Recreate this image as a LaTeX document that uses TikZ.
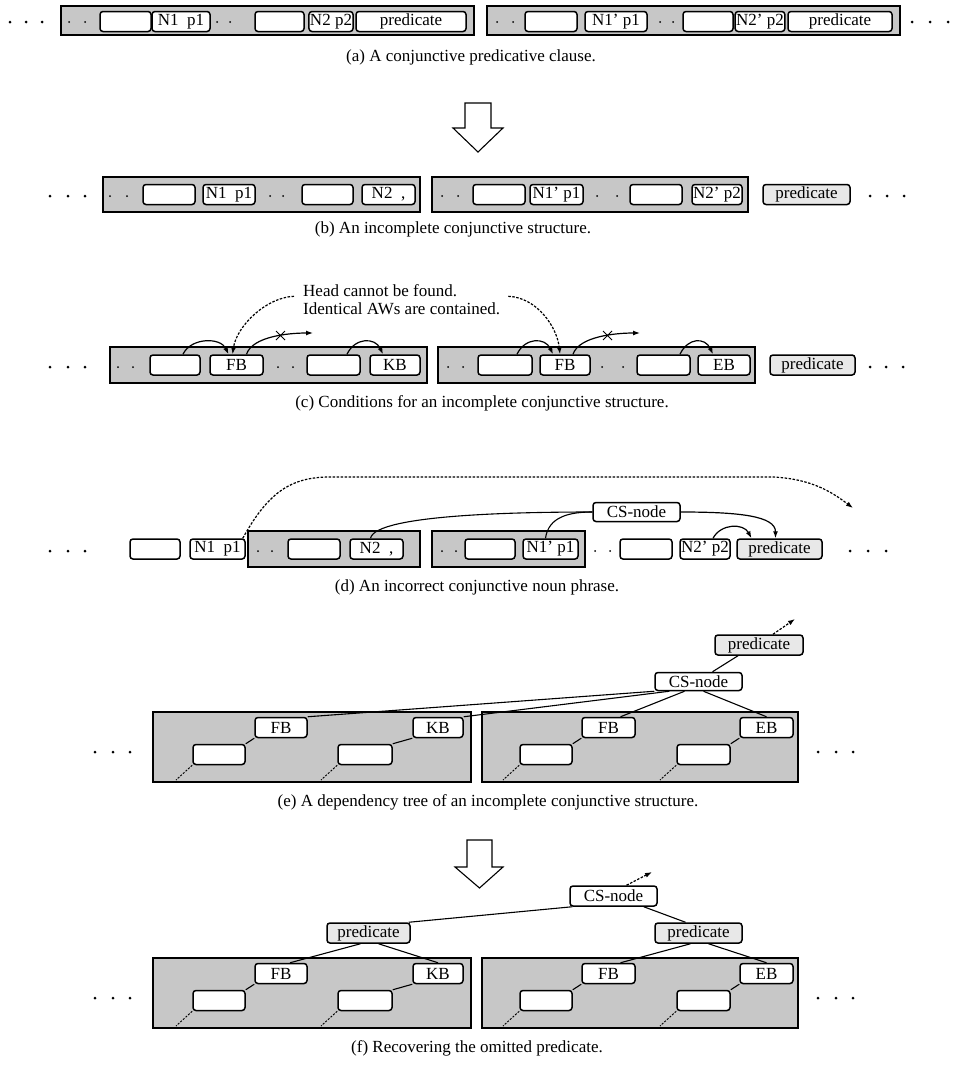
\documentclass[tikz,border=0pt]{standalone}
\usepackage{fontspec}
\setmainfont{Liberation Serif}
\usetikzlibrary{arrows.meta}
\newcommand\lblfont{\fontsize{17}{18}\selectfont}
\begin{document}
\begin{tikzpicture}[x=1pt,y=-1pt,
  band/.style={draw, line width=1.5pt, fill=black!22, inner sep=0pt, rectangle},
  ebox/.style={draw, line width=1.5pt, rounded corners=3pt, fill=white, inner sep=1pt, minimum height=20pt},
  lbox/.style={ebox, font=\lblfont},
  pbox/.style={lbox, fill=black!9},
  capt/.style={font=\lblfont, inner sep=0pt},
  arr/.style={line width=1.2pt, -{Latex[length=7pt,width=5pt]}},
  darr/.style={arr, dash pattern=on 2.5pt off 1.5pt},
  ln/.style={line width=1.1pt},
  dln/.style={line width=1pt, dash pattern=on 2pt off 1.5pt},
  bigarrow/.style={draw, line width=1.1pt, fill=white, line join=miter}
]
\useasboundingbox (0,0) rectangle (953,1068);

% ================= (a) =================
\node[band, minimum width=413, minimum height=29] (bA1) at (267.5,20.5) {};
\node[band, minimum width=413, minimum height=29] (bA2) at (693.5,20.5) {};
\foreach \x in {69,85,217,230,497,513,660,673} \fill (\x,22) circle (1pt);
\foreach \x in {10,26,42,912,930,948} \fill (\x,22) circle (1.5pt);
\node[ebox, minimum width=51] (aE1) at (125.5,21.5) {};
\node[lbox, minimum width=58] (aN1) at (181,21.5) {N1~~p1};
\node[ebox, minimum width=49] (aE2) at (279.5,21.5) {};
\node[lbox, minimum width=38] (aN2) at (331,21.5) {N2~p2};
\node[lbox, minimum width=110] (aP1) at (411,21.5) {predicate};
\node[ebox, minimum width=52] (aE3) at (551,21.5) {};
\node[lbox, minimum width=62] (aN3) at (616,21.5) {N1’ p1};
\node[ebox, minimum width=50] (aE4) at (708,21.5) {};
\node[lbox, minimum width=46] (aN4) at (760,21.5) {N2’ p2};
\node[lbox, minimum width=104] (aP2) at (840,21.5) {predicate};
\node[capt] (capA) at (471,57) {(a) A conjunctive predicative clause.};

\draw[bigarrow] (465,103) -- (491,103) -- (491,128) -- (503,128) -- (478,152) -- (453,128) -- (465,128) -- cycle;

% ================= (b) =================
\node[band, minimum width=317, minimum height=35] (bB1) at (261.5,194.5) {};
\node[band, minimum width=316, minimum height=35] (bB2) at (590,194.5) {};
\foreach \x in {110,127,270,283,442,458,597,617} \fill (\x,196) circle (1pt);
\foreach \x in {50,68,85,870,887,904} \fill (\x,196) circle (1.5pt);
\node[ebox, minimum width=52] (bE1) at (169,194.5) {};
\node[lbox, minimum width=52] (bN1) at (229,194.5) {N1~~p1};
\node[ebox, minimum width=51] (bE2) at (327.5,194.5) {};
\node[lbox, minimum width=53] (bN2) at (388.5,194.5) {N2~~,};
\node[ebox, minimum width=52] (bE3) at (499,194.5) {};
\node[lbox, minimum width=53] (bN3) at (556.5,194.5) {N1’ p1};
\node[ebox, minimum width=52] (bE4) at (656,194.5) {};
\node[lbox, minimum width=50] (bN4) at (717,194.5) {N2’ p2};
\node[pbox, minimum width=87] (bP) at (806.5,194.5) {predicate};
\node[capt] (capB) at (453,229) {(b) An incomplete conjunctive structure.};

% ================= (c) =================
\node[band, minimum width=317, minimum height=36] (cB1) at (268.5,365) {};
\node[band, minimum width=317, minimum height=36] (cB2) at (596.5,365) {};
\foreach \x in {118,133,278,293,448,463,602,623} \fill (\x,367) circle (1pt);
\foreach \x in {50,68,85,870,886,903} \fill (\x,367) circle (1.5pt);
\node[ebox, minimum width=50] (cE1) at (175,365) {};
\node[lbox, minimum width=53] (cF1) at (236.5,365) {FB};
\node[ebox, minimum width=53] (cE2) at (333.5,365) {};
\node[lbox, minimum width=50] (cK) at (395,365) {KB};
\node[ebox, minimum width=54] (cE3) at (505,365) {};
\node[lbox, minimum width=50] (cF2) at (565,365) {FB};
\node[ebox, minimum width=53] (cE4) at (663.5,365) {};
\node[lbox, minimum width=52] (cEB) at (724,365) {EB};
\node[pbox, minimum width=85] (cP) at (812.5,365) {predicate};
\node[font=\lblfont, align=left, anchor=north west, inner sep=0pt] (cT) at (303,284)
  {Head cannot be found.\\Identical AWs are contained.};
\draw[darr] ([xshift=-9pt,yshift=3pt]cT.west) .. controls +(-28,1) and +(4,-28) .. ([xshift=-4pt]cF1.north);
\draw[darr] ([xshift=8pt,yshift=3pt]cT.east) .. controls +(28,1) and +(-3,-28) .. ([xshift=-5pt]cF2.north);
\draw[arr] ([xshift=8pt]cE1.north) .. controls +(8,-17) and +(-8,-17) .. ([xshift=-8pt]cF1.north);
\draw[arr] ([xshift=13.5pt]cE2.north) .. controls +(8,-17) and +(-8,-17) .. ([xshift=-12pt]cK.north);
\draw[arr] ([xshift=12pt]cE3.north) .. controls +(8,-17) and +(-8,-17) .. ([xshift=-12pt]cF2.north);
\draw[arr] ([xshift=16.5pt]cE4.north) .. controls +(8,-17) and +(-8,-17) .. ([xshift=-11pt]cEB.north);
\coordinate (cX1) at (313,333);
\coordinate (cX2) at (640,333);
\draw[arr] ([xshift=10pt]cF1.north) .. controls +(6,-18) and +(-24,0) .. (cX1);
\draw[arr] ([xshift=8pt]cF2.north) .. controls +(6,-18) and +(-24,0) .. (cX2);
\draw[line width=1pt] (276,331) -- (285,340) (276,340) -- (285,331);
\draw[line width=1pt] (603,331) -- (612,340) (603,340) -- (612,331);
\node[capt] (capC) at (482,403) {(c) Conditions for an incomplete conjunctive structure.};

% ================= (d) =================
\node[band, minimum width=172, minimum height=36] (dB1) at (334,549) {};
\node[band, minimum width=153, minimum height=36] (dB2) at (508.5,549) {};
\foreach \x in {258,272,442,456,595,610} \fill (\x,551) circle (1pt);
\foreach \x in {50,68,85,850,868,886} \fill (\x,551) circle (1.5pt);
\node[ebox, minimum width=50] (dE1) at (155,549) {};
\node[lbox, minimum width=55] (dN1) at (217.5,549) {N1~~p1};
\node[ebox, minimum width=52] (dE2) at (314,549) {};
\node[lbox, minimum width=53] (dN2) at (376.5,549) {N2~~,};
\node[ebox, minimum width=50] (dE3) at (490,549) {};
\node[lbox, minimum width=55] (dN3) at (550.5,549) {N1’ p1};
\node[ebox, minimum width=52] (dE4) at (646,549) {};
\node[lbox, minimum width=50] (dN4) at (705,549) {N2’ p2};
\node[pbox, minimum width=85] (dP) at (779.5,549) {predicate};
\node[lbox, minimum width=87, minimum height=19] (dCS) at (636.5,512) {CS-node};
\coordinate (dEnd) at (853,508);
\draw[darr] ([xshift=-3pt]dN1.north east) .. controls +(25,-45) and +(-40,0) .. (330,477) -- (773,477) .. controls +(40,2) and +(-20,-15) .. (dEnd);
\draw[ln] ([xshift=-6pt]dN2.north) .. controls +(5,-24) and +(-70,0) .. (dCS.west);
\draw[ln] ([xshift=-5pt]dN3.north) .. controls +(3,-22) and +(-22,0) .. (dCS.west);
\draw[arr] (dCS.east) .. controls +(60,0) and +(0,-22) .. ([xshift=-4pt]dP.north);
\draw[arr] ([xshift=8pt]dN4.north) .. controls +(8,-15) and +(-8,-15) .. ([xshift=-28pt]dP.north);
\node[capt] (capD) at (477,587) {(d) An incorrect conjunctive noun phrase.};

% ================= (e) =================
\node[pbox, minimum width=88] (eP) at (759,645) {predicate};
\node[lbox, minimum width=87, minimum height=18] (eCS) at (698.5,681.5) {CS-node};
\node[band, minimum width=318, minimum height=70] (eB1) at (312,747) {};
\node[band, minimum width=316, minimum height=70] (eB2) at (640,747) {};
\node[lbox, minimum width=52] (eF1) at (281,727.5) {FB};
\node[lbox, minimum width=50] (eK) at (438,727.5) {KB};
\node[lbox, minimum width=53] (eF2) at (608.5,727.5) {FB};
\node[lbox, minimum width=53] (eEB) at (766.5,727.5) {EB};
\node[ebox, minimum width=52] (eE1) at (219,754.5) {};
\node[ebox, minimum width=54] (eE2) at (365,754.5) {};
\node[ebox, minimum width=52] (eE3) at (546,754.5) {};
\node[ebox, minimum width=53] (eE4) at (703.5,754.5) {};
\foreach \x in {95,113,130,818,836,853} \fill (\x,752) circle (1.5pt);
\draw[ln] (eF1.south west) -- (eE1.north east);
\draw[ln] (eK.south west) -- (eE2.north east);
\draw[ln] (eF2.south west) -- (eE3.north east);
\draw[ln] (eEB.south west) -- (eE4.north east);
\coordinate (eD1) at (176,780);
\coordinate (eD2) at (321,780);
\coordinate (eD3) at (503,780);
\coordinate (eD4) at (660,780);
\draw[dln] (eE1.south west) -- (eD1);
\draw[dln] (eE2.south west) -- (eD2);
\draw[dln] (eE3.south west) -- (eD3);
\draw[dln] (eE4.south west) -- (eD4);
\draw[ln] ([xshift=14pt]eCS.north) -- ([xshift=-21pt]eP.south);
\draw[ln] (eCS.south west) -- (eF1.north east);
\draw[ln] ([xshift=15pt]eCS.south west) -- (eK.north east);
\draw[ln] ([xshift=-14pt]eCS.south) -- ([xshift=12pt]eF2.north);
\draw[ln] ([xshift=5pt]eCS.south) -- (eEB.north);
\coordinate (eUp) at (795,619);
\draw[darr] ([xshift=14pt]eP.north) -- (eUp);
\node[capt] (capE) at (488,802) {(e) A dependency tree of an incomplete conjunctive structure.};

\draw[bigarrow] (467,840) -- (492,840) -- (492,867) -- (503,867) -- (479.5,888) -- (455,867) -- (467,867) -- cycle;

% ================= (f) =================
\node[lbox, minimum width=87] (fCS) at (613.5,896) {CS-node};
\coordinate (fUp) at (652,872);
\draw[darr] ([xshift=13pt]fCS.north) -- (fUp);
\node[pbox, minimum width=83] (fP1) at (368.5,933) {predicate};
\node[pbox, minimum width=87] (fP2) at (698.5,933) {predicate};
\draw[ln] ([xshift=-2pt]fP1.north east) -- ([xshift=3pt]fCS.south west);
\draw[ln] ([xshift=-14pt]fCS.south east) -- ([xshift=-13pt]fP2.north);
\node[band, minimum width=318, minimum height=70] (fB1) at (312,993) {};
\node[band, minimum width=316, minimum height=70] (fB2) at (640,993) {};
\node[lbox, minimum width=52] (fF1) at (281,973.5) {FB};
\node[lbox, minimum width=50] (fK) at (438,973.5) {KB};
\node[lbox, minimum width=53] (fF2) at (608.5,973.5) {FB};
\node[lbox, minimum width=53] (fEB) at (766.5,973.5) {EB};
\node[ebox, minimum width=52] (fE1) at (219,1000.5) {};
\node[ebox, minimum width=54] (fE2) at (365,1000.5) {};
\node[ebox, minimum width=52] (fE3) at (546,1000.5) {};
\node[ebox, minimum width=53] (fE4) at (703.5,1000.5) {};
\foreach \x in {95,113,130,818,836,853} \fill (\x,998) circle (1.5pt);
\draw[ln] (fF1.south west) -- (fE1.north east);
\draw[ln] (fK.south west) -- (fE2.north east);
\draw[ln] (fF2.south west) -- (fE3.north east);
\draw[ln] (fEB.south west) -- (fE4.north east);
\coordinate (fD1) at (176,1026);
\coordinate (fD2) at (321,1026);
\coordinate (fD3) at (503,1026);
\coordinate (fD4) at (660,1026);
\draw[dln] (fE1.south west) -- (fD1);
\draw[dln] (fE2.south west) -- (fD2);
\draw[dln] (fE3.south west) -- (fD3);
\draw[dln] (fE4.south west) -- (fD4);
\draw[ln] ([xshift=-8pt]fP1.south) -- ([xshift=9pt]fF1.north);
\draw[ln] ([xshift=10pt]fP1.south) -- (fK.north);
\draw[ln] ([xshift=-8pt]fP2.south) -- ([xshift=12pt]fF2.north);
\draw[ln] ([xshift=10pt]fP2.south) -- (fEB.north);
\node[capt] (capF) at (477,1048) {(f) Recovering the omitted predicate.};
\end{tikzpicture}
\end{document}
